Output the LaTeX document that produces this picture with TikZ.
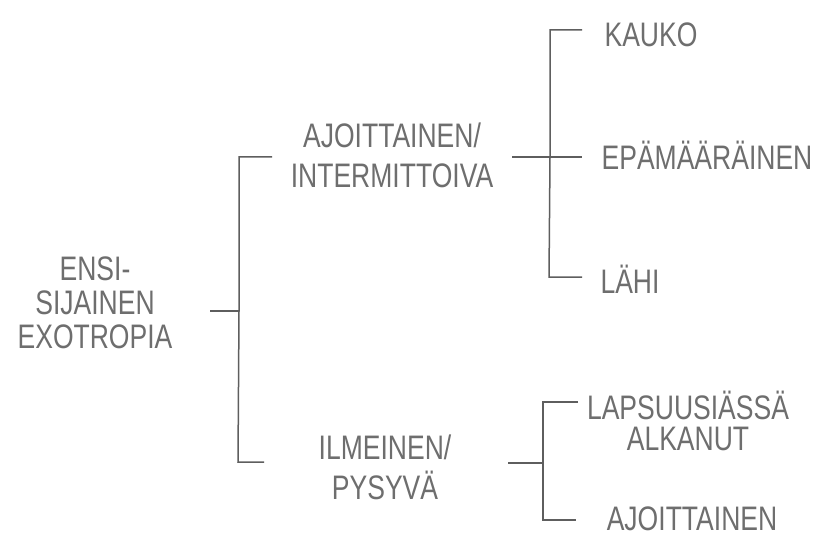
\documentclass[tikz,border=0pt]{standalone}
\usepackage{fontspec}
\setmainfont{Liberation Sans}[FakeStretch=0.78]
\definecolor{pencil}{HTML}{5E5E5E}
\definecolor{pencilt}{HTML}{6E6E6E}
\begin{document}
\begin{tikzpicture}[x=1pt,y=-1pt,
  lbl/.style={text=pencilt,inner sep=0pt,align=center,font=\fontsize{34}{#1}\selectfont},
  lbl/.default=40,
  br/.style={draw=pencil,line width=1.5pt}]
\useasboundingbox[fill=white] (0,0) rectangle (826,537);
% labels
\node[lbl=34] (root) at (95,303) {ENSI-\\SIJAINEN\\EXOTROPIA};
\node[lbl=40] (a) at (392,155) {AJOITTAINEN/\\INTERMITTOIVA};
\node[lbl=40] (b) at (385,467) {ILMEINEN/\\PYSYVÄ};
\node[lbl] (a1) at (651,35) {KAUKO};
\node[lbl] (a2) at (707,155) {EPÄMÄÄRÄINEN};
\node[lbl] (a3) at (630,279) {LÄHI};
\node[lbl=31] (b1) at (688,421) {LAPSUUSIÄSSÄ\\ALKANUT};
\node[lbl] (b2) at (692,519) {AJOITTAINEN};
% junction coordinates
\coordinate (r0) at (210,311);
\coordinate (r1) at (239,311);
\coordinate (rt) at (239,157);
\coordinate (rte) at (272,157);
\coordinate (rb) at (238,462);
\coordinate (rbe) at (264,462);
\coordinate (p0) at (512,157);
\coordinate (p1) at (550,157);
\coordinate (pt) at (550,30);
\coordinate (pte) at (582,30);
\coordinate (pme) at (582,157);
\coordinate (pb) at (549,277);
\coordinate (pbe) at (582,277);
\coordinate (q0) at (508,463);
\coordinate (q1) at (543,463);
\coordinate (qt) at (543,402);
\coordinate (qte) at (578,402);
\coordinate (qb) at (543,520);
\coordinate (qbe) at (576,520);
% brackets
\draw[br] (r0) -- (r1);
\draw[br] (rte) -- (rt) -- (r1) -- (rb) -- (rbe);
\draw[br] (p0) -- (pme);
\draw[br] (pte) -- (pt) -- (p1) -- (pb) -- (pbe);
\draw[br] (q0) -- (q1);
\draw[br] (qte) -- (qt) -- (q1) -- (qb) -- (qbe);
\end{tikzpicture}
\end{document}
